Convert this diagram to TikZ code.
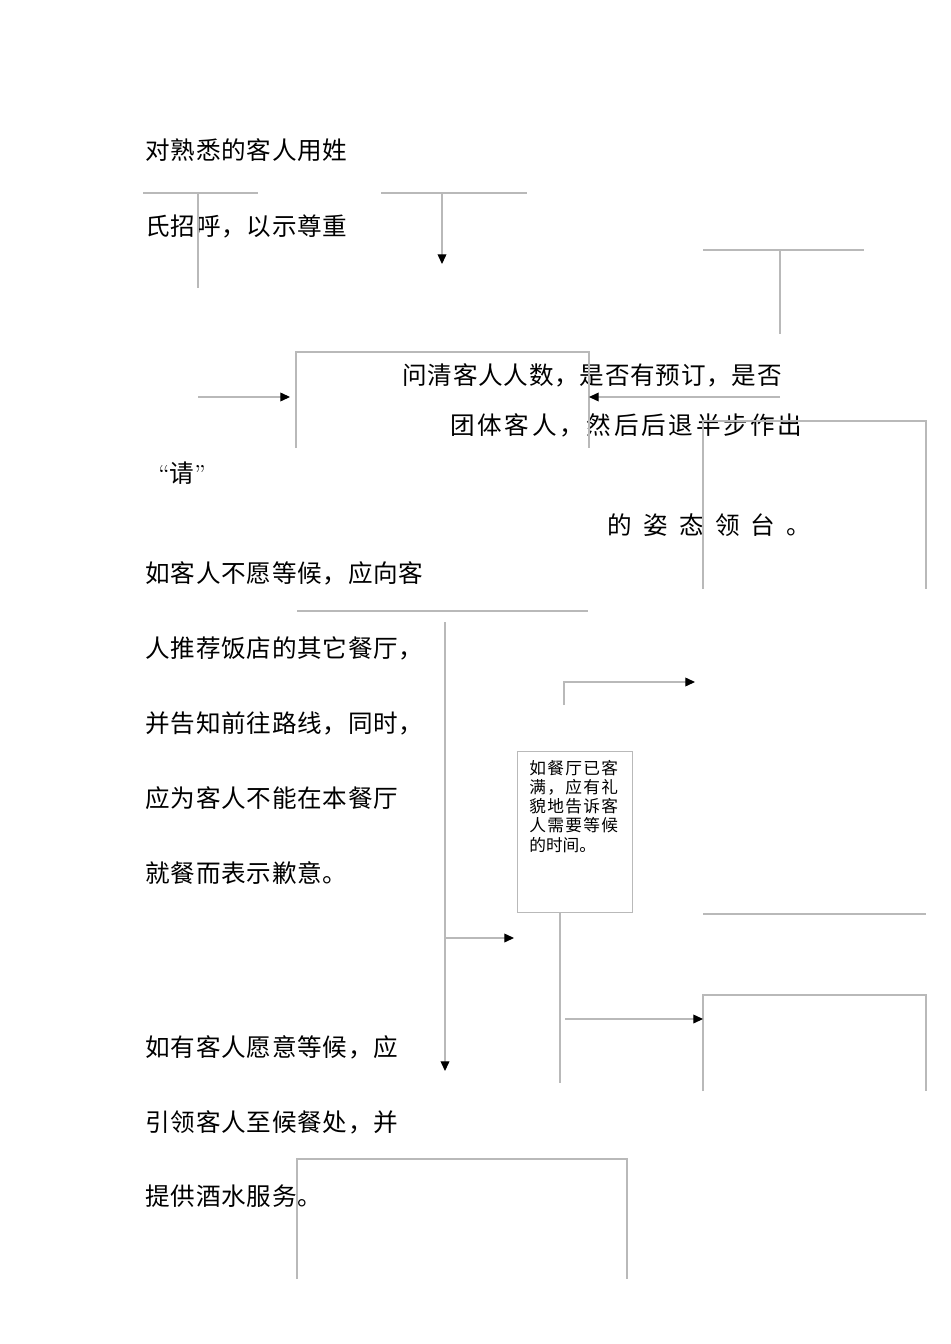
\documentclass[tikz,border=0pt]{standalone}
\usepackage{fontspec}
\newfontfamily\cjk[LetterSpace=3]{Noto Sans CJK SC}
\newfontfamily\cjkancho[LetterSpace=11]{Noto Sans CJK SC}
\newfontfamily\cjkabierto[LetterSpace=46]{Noto Sans CJK SC}
\newfontfamily\cjkcaja[LetterSpace=8]{Noto Sans CJK SC}
\newfontfamily\cjkfin{Noto Sans CJK SC}
\usetikzlibrary{arrows.meta}

\tikzset{
  linea/.style={draw=gray!55, line width=0.6pt},
  flecha/.style={linea, -{Triangle[length=5.5pt, width=5pt, color=black]}},
  texto/.style={anchor=west, inner sep=0pt, font=\cjk\fontsize{14pt}{16pt}\selectfont},
}

\begin{document}
\begin{tikzpicture}[x=0.02cm, y=-0.02cm]
    \useasboundingbox (0,0) rectangle (950,1344);

    % Textos de la columna izquierda.
    \node[texto] (t1) at (145,150) {对熟悉的客人用姓};
    \node[texto] (t2) at (145,226) {氏招呼，以示尊重};
    \node[texto] (t3) at (402,375) {问清客人人数，是否有预订，是否};
    \node[texto, font=\cjkancho\fontsize{14pt}{16pt}\selectfont] (t4) at (450,425) {团体客人，然后后退半步作出};
    \node[texto, font=\rmfamily\fontsize{14pt}{16pt}\selectfont] (t5) at (158,473) {“{\cjkfin 请}”};
    \node[texto, font=\cjkabierto\fontsize{14pt}{16pt}\selectfont] (t6) at (607,525) {的姿态领台。};
    \node[texto] (t7) at (145,573) {如客人不愿等候，应向客};
    \node[texto] (t8) at (145,648) {人推荐饭店的其它餐厅，};
    \node[texto] (t9) at (145,723) {并告知前往路线，同时，};
    \node[texto] (t10) at (145,798) {应为客人不能在本餐厅};
    \node[texto] (t11) at (145,873) {就餐而表示歉意。};
    \node[texto] (t12) at (145,1047) {如有客人愿意等候，应};
    \node[texto] (t13) at (145,1122) {引领客人至候餐处，并};
    \node[texto] (t14) at (145,1196) {提供酒水服务。};

    % Caja con el aviso de restaurante lleno.
    \node[linea, draw, anchor=north west, inner sep=0pt, minimum width=2.3cm, minimum height=3.22cm] (lleno) at (517,751) {};
    \node[anchor=north west, inner sep=0pt, align=left, font=\cjkcaja\fontsize{9.5pt}{10.9pt}\selectfont] (aviso) at (529,760)
        {如餐厅已客\\满，应有礼\\貌地告诉客\\人需要等候\\{\cjkfin 的时间。}};

    % Trazos sueltos y cajas abiertas por abajo.
    \draw[linea] (143,193) -- (258,193) (198,193) -- (198,288);
    \draw[linea] (381,193) -- (527,193);
    \draw[linea] (703,250) -- (864,250) (780,250) -- (780,334);
    \draw[linea] (296,448) -- (296,352) -- (589,352) -- (589,448);
    \draw[linea] (703,589) -- (703,421) -- (926,421) -- (926,589);
    \draw[linea] (297,611) -- (588,611);
    \draw[linea] (703,914) -- (926,914);
    \draw[linea] (560,912) -- (560,1083);
    \draw[linea] (703,1091) -- (703,995) -- (926,995) -- (926,1091);
    \draw[linea] (297,1279) -- (297,1159) -- (627,1159) -- (627,1279);

    % Flechas.
    \draw[flecha] (442,193) -- (442,264);
    \draw[flecha] (198,397) -- (290,397);
    \draw[flecha] (780,397) -- (589,397);
    \draw[flecha] (445,622) -- (445,1071);
    \draw[flecha] (445,938) -- (514,938);
    \draw[flecha] (564,705) -- (564,682) -- (695,682);
    \draw[flecha] (565,1019) -- (703,1019);
\end{tikzpicture}
\end{document}
